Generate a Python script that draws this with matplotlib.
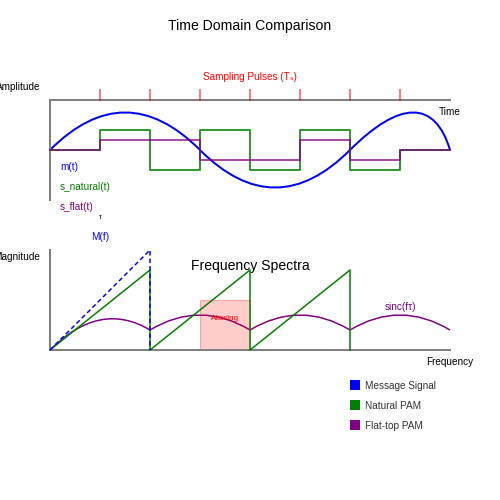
import matplotlib
matplotlib.use("Agg")
import matplotlib.pyplot as plt
from matplotlib.path import Path
from matplotlib.patches import PathPatch, Rectangle

plt.rcParams['font.family'] = ['Liberation Sans', 'DejaVu Sans']

PX = 0.72  # svg px -> pt at 100 dpi

# ---- data, in canvas pixels ----
sample_x = [100, 150, 200, 250, 300, 350, 400]

# message signal m(t): cubic bezier control points
msg_pts = [(50, 150), (100, 100), (150, 100), (200, 150),
           (250, 200), (300, 200), (350, 150),
           (400, 100), (435, 100), (450, 150)]

natural_x = [50, 100, 100, 150, 150, 200, 200, 250, 250, 300, 300, 350, 350, 400, 400, 450]
natural_y = [150, 150, 130, 130, 170, 170, 130, 130, 170, 170, 130, 130, 170, 170, 150, 150]

flat_x = [50, 100, 100, 200, 200, 300, 300, 350, 350, 400, 400, 450]
flat_y = [150, 150, 140, 140, 160, 160, 140, 140, 160, 160, 150, 150]

# spectra
mf_x = [50, 150, 150]
mf_y = [350, 250, 350]
nat_spec_x = [50, 150, 150, 250, 250, 350, 350]
nat_spec_y = [350, 270, 350, 270, 350, 270, 350]
# sinc envelope: quadratic bezier arcs
sinc_pts = [(50, 350), (100, 300), (150, 330),
            (200, 300), (250, 330),
            (300, 300), (350, 330),
            (400, 300), (450, 330)]

alias_box = (200, 300, 50, 50)

legend_names = ['Message Signal', 'Natural PAM', 'Flat-top PAM']
legend_colors = ['blue', 'green', 'purple']
legend_y = [380, 400, 420]

fig = plt.figure(figsize=(5, 5), dpi=100)
ax = fig.add_axes([0, 0, 1, 1])
ax.set_xlim(0, 500)
ax.set_ylim(500, 0)
ax.axis('off')

def txt(x, y, s, size, color='black', ha='left'):
    ax.text(x, y, s, fontsize=size * PX, color=color, ha=ha, va='baseline')

# ---- time domain ----
txt(250, 30, 'Time Domain Comparison', 14, ha='center')
ax.plot([50, 50], [200, 100], color='gray', lw=2 * PX)
ax.plot([50, 450], [100, 100], color='gray', lw=2 * PX)
txt(40, 90, 'Amplitude', 10, ha='right')
txt(450, 115, 'Time', 10, ha='center')

for sx in sample_x:
    ax.plot([sx, sx], [90, 100], color='red', alpha=0.5, lw=2 * PX)
txt(250, 80, 'Sampling Pulses (Tₛ)', 10, color='red', ha='center')

ax.plot(natural_x, natural_y, color='green', alpha=0.8, lw=2 * PX)
ax.plot(flat_x, flat_y, color='purple', alpha=0.7, lw=2 * PX)

codes = [Path.MOVETO] + [Path.CURVE4] * (len(msg_pts) - 1)
ax.add_patch(PathPatch(Path(msg_pts, codes), fill=False, edgecolor='blue', lw=2 * PX))

txt(60, 170, 'm(t)', 10, color='blue')
txt(60, 190, 's_natural(t)', 10, color='green')
txt(60, 210, 's_flat(t)', 10, color='purple')
txt(100, 219, 'τ', 7, ha='center')

# ---- frequency spectra ----
txt(250, 270, 'Frequency Spectra', 14, ha='center')
ax.plot([50, 50], [350, 250], color='gray', lw=2 * PX)
ax.plot([50, 450], [350, 350], color='gray', lw=2 * PX)
txt(40, 260, 'Magnitude', 10, ha='right')
txt(450, 365, 'Frequency', 10, ha='center')

ax.plot(nat_spec_x, nat_spec_y, color='green', lw=1.5 * PX)
codes = [Path.MOVETO] + [Path.CURVE3] * (len(sinc_pts) - 1)
ax.add_patch(PathPatch(Path(sinc_pts, codes), fill=False, edgecolor='purple', lw=1.5 * PX))
ax.plot(mf_x, mf_y, color='blue', lw=1.5 * PX, linestyle=(0, (3, 2)))
txt(100, 240, 'M(f)', 10, color='blue', ha='center')
txt(400, 310, 'sinc(fτ)', 10, color='purple', ha='center')

bx, by, bw, bh = alias_box
ax.add_patch(Rectangle((bx, by), bw, bh, facecolor=(1, 0, 0, 0.2),
                       edgecolor=(1, 0, 0, 0.3), lw=1 * PX))
txt(225, 320, 'Aliasing', 8, color='red', ha='center')

for name, c, ly in zip(legend_names, legend_colors, legend_y):
    ax.add_patch(Rectangle((350, ly), 10, 10, facecolor=c, edgecolor='none'))
    txt(365, ly + 9, name, 10, color='#333333')

fig.savefig('out.png', dpi=100)
